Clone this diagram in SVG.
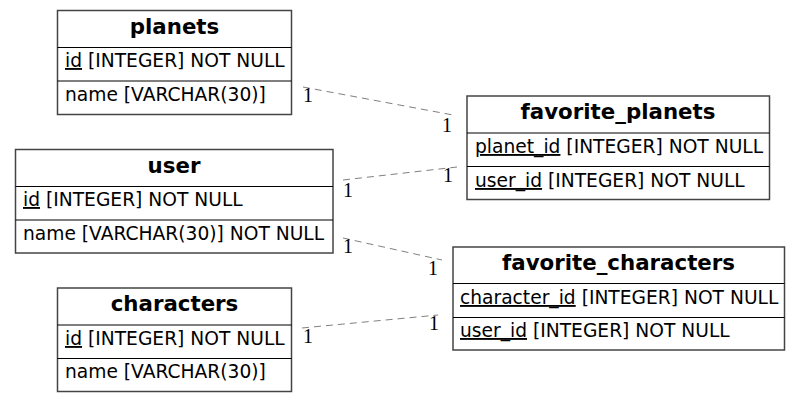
<svg xmlns="http://www.w3.org/2000/svg" width="800" height="403" viewBox="0 0 800 403">
<style>
.box{fill:#ffffff;stroke:#444444;stroke-width:1.5}
.sep{stroke:#000000;stroke-width:1.2}
.title{font-family:"DejaVu Sans",sans-serif;font-weight:bold;font-size:21.33px;text-anchor:middle;fill:#000}
.row{font-family:"DejaVu Sans",sans-serif;font-size:18.67px;fill:#000}
.u{text-decoration:underline}
.edge{stroke:#808080;stroke-width:1;stroke-dasharray:7,5;fill:none}
.card{font-family:"Liberation Serif","DejaVu Serif",serif;font-size:20px;fill:#000}
</style>
<rect width="800" height="403" fill="#ffffff"/>
<g id="connectors">
<line class="edge" x1="303" y1="87" x2="453" y2="115"/>
<line class="edge" x1="343" y1="180" x2="457" y2="167"/>
<line class="edge" x1="343" y1="238" x2="442" y2="260"/>
<line class="edge" x1="302" y1="328" x2="438" y2="315"/>
<text class="card" x="303" y="102">1</text>
<text class="card" x="442" y="132">1</text>
<text class="card" x="343" y="197">1</text>
<text class="card" x="443" y="182">1</text>
<text class="card" x="343" y="253">1</text>
<text class="card" x="428" y="275">1</text>
<text class="card" x="303" y="343">1</text>
<text class="card" x="429" y="330">1</text>
</g>
<g id="planets">
<rect class="box" x="57.5" y="10.5" width="234" height="104"/>
<line class="sep" x1="57.5" y1="47.5" x2="291.5" y2="47.5"/>
<line class="sep" x1="57.5" y1="81" x2="291.5" y2="81"/>
<text class="title" x="174.5" y="34">planets</text>
<text class="row" x="65" y="67"><tspan class="u">id</tspan> [INTEGER] NOT NULL</text>
<text class="row" x="65" y="101">name [VARCHAR(30)]</text>
</g>
<g id="user">
<rect class="box" x="15.5" y="149.5" width="317.5" height="103.5"/>
<line class="sep" x1="15.5" y1="186.5" x2="333" y2="186.5"/>
<line class="sep" x1="15.5" y1="220" x2="333" y2="220"/>
<text class="title" x="174" y="173">user</text>
<text class="row" x="23" y="206"><tspan class="u">id</tspan> [INTEGER] NOT NULL</text>
<text class="row" x="23" y="240">name [VARCHAR(30)] NOT NULL</text>
</g>
<g id="characters">
<rect class="box" x="57.5" y="288" width="234" height="103.5"/>
<line class="sep" x1="57.5" y1="325" x2="291.5" y2="325"/>
<line class="sep" x1="57.5" y1="358.5" x2="291.5" y2="358.5"/>
<text class="title" x="174.5" y="311">characters</text>
<text class="row" x="65" y="345"><tspan class="u">id</tspan> [INTEGER] NOT NULL</text>
<text class="row" x="65" y="378">name [VARCHAR(30)]</text>
</g>
<g id="favorite_planets">
<rect class="box" x="467" y="96" width="302.5" height="103.5"/>
<line class="sep" x1="467" y1="133" x2="769.5" y2="133"/>
<line class="sep" x1="467" y1="166.5" x2="769.5" y2="166.5"/>
<text class="title" x="618" y="119">favorite_planets</text>
<text class="row" x="475" y="153"><tspan class="u">planet_id</tspan> [INTEGER] NOT NULL</text>
<text class="row" x="475" y="187"><tspan class="u">user_id</tspan> [INTEGER] NOT NULL</text>
</g>
<g id="favorite_characters">
<rect class="box" x="453" y="247" width="331.5" height="103"/>
<line class="sep" x1="453" y1="283.5" x2="784.5" y2="283.5"/>
<line class="sep" x1="453" y1="317.5" x2="784.5" y2="317.5"/>
<text class="title" x="618.5" y="270">favorite_characters</text>
<text class="row" x="460" y="304"><tspan class="u">character_id</tspan> [INTEGER] NOT NULL</text>
<text class="row" x="460" y="337"><tspan class="u">user_id</tspan> [INTEGER] NOT NULL</text>
</g>
</svg>
